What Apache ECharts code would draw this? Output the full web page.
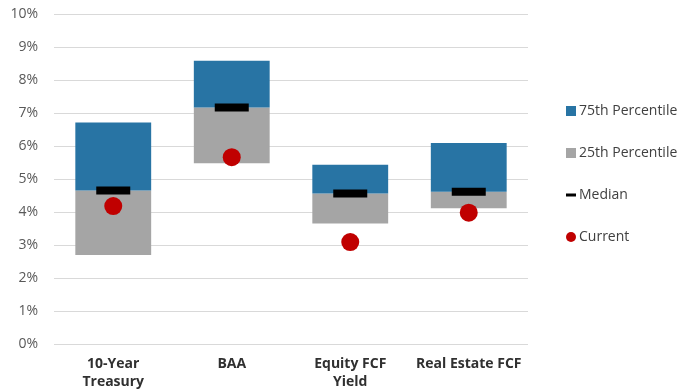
<!DOCTYPE html>
<html>
<head>
<meta charset="utf-8">
<script src="https://cdn.jsdelivr.net/npm/echarts@6/dist/echarts.min.js"></script>
<style>
  html, body { margin: 0; padding: 0; background: #ffffff; }
  #chart { width: 685px; height: 391px; }
</style>
</head>
<body>
<div id="chart"></div>
<script>
// Yield ranges (%) by asset class
const categories = ['10-Year\nTreasury', 'BAA', 'Equity FCF\nYield', 'Real Estate FCF'];
const p25 = [2.70, 5.48, 3.65, 4.11];
const median = [4.65, 7.17, 4.56, 4.61];
const p75 = [6.71, 8.58, 5.43, 6.09];
const current = [4.18, 5.66, 3.09, 3.98];
const yTicks = { min: 0, max: 10, step: 1 };

const FONT = '"Open Sans", "Noto Sans", sans-serif';

// Floating bars: transparent base up to the 25th percentile,
// grey segment to the median, blue segment up to the 75th percentile.
const base = p25;
const lowerBand = median.map((m, i) => +(m - p25[i]).toFixed(4));
const upperBand = p75.map((h, i) => +(h - median[i]).toFixed(4));

const chart = echarts.init(document.getElementById('chart'));
chart.setOption({
  animation: false,
  grid: { left: 54, right: 157, top: 14, bottom: 46, containLabel: false },
  legend: {
    orient: 'vertical',
    left: 561,
    top: 99,
    itemGap: 28,
    itemWidth: 10,
    itemHeight: 10,
    textStyle: { fontFamily: FONT, fontSize: 14, color: '#404040', padding: [0, 0, 0, -2] },
    data: [
      { name: '75th Percentile', icon: 'rect' },
      { name: '25th Percentile', icon: 'rect' },
      { name: 'Median', icon: 'path://M0,0H10V3H0Z' },
      { name: 'Current', icon: 'circle' }
    ]
  },
  xAxis: {
    type: 'category',
    data: categories,
    axisLine: { show: false },
    axisTick: { show: false },
    axisLabel: {
      fontFamily: FONT, fontSize: 14, fontWeight: 'bold', color: '#303030',
      margin: 11, lineHeight: 18, interval: 0
    }
  },
  yAxis: {
    type: 'value',
    min: yTicks.min, max: yTicks.max, interval: yTicks.step,
    axisLine: { show: false },
    axisTick: { show: false },
    splitLine: { lineStyle: { color: '#d9d9d9', width: 1 } },
    axisLabel: {
      formatter: '{value}%', fontFamily: FONT, fontSize: 14, color: '#595959', margin: 16
    }
  },
  series: [
    {
      name: 'base', type: 'bar', stack: 'range', data: base,
      barWidth: '64%', itemStyle: { color: 'transparent' },
      emphasis: { disabled: true }, silent: true
    },
    {
      name: '25th Percentile', type: 'bar', stack: 'range', data: lowerBand,
      itemStyle: { color: '#a5a5a5' }
    },
    {
      name: '75th Percentile', type: 'bar', stack: 'range', data: upperBand,
      itemStyle: { color: '#2874a4' }
    },
    {
      name: 'Median', type: 'scatter', data: median,
      symbol: 'rect', symbolSize: [34, 8],
      itemStyle: { color: '#000000', opacity: 1 }, z: 5
    },
    {
      name: 'Current', type: 'scatter', data: current,
      symbol: 'circle', symbolSize: 18,
      itemStyle: { color: '#c00000', opacity: 1 }, z: 6
    }
  ]
});
</script>
</body>
</html>
